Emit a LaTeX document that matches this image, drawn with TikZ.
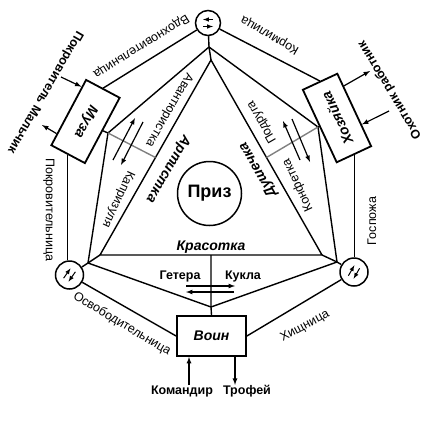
\documentclass[tikz,border=0pt]{standalone}
\usepackage{fontspec}
\setmainfont{Liberation Sans}
\usepackage{tikz}
\usetikzlibrary{arrows,calc,positioning}
\tikzset{x=1pt,y=1pt,
  ring/.style={circle,draw,line width=1.5pt,inner sep=0pt,minimum size=#1},
  box/.style={rectangle,draw,line width=1.8pt,inner sep=0pt,minimum width=#1,minimum height=38,font=\fontsize{14}{16}\selectfont\bfseries\itshape},
  lab/.style={inner sep=0pt,font=\fontsize{12.5}{14}\selectfont},
  blab/.style={inner sep=0pt,font=\fontsize{12.5}{14}\selectfont\bfseries},
  ilab/.style={inner sep=0pt,font=\fontsize{14}{16}\selectfont\bfseries\itshape},
  link/.style={line width=1.4pt},
  arr/.style={-latex,line width=1.2pt},
  tiny/.style={-latex,line width=1pt}}

\begin{document}
\begin{tikzpicture}
    \useasboundingbox (0,0) rectangle (430,-423);
    % circles and boxes
    \node[ring=25] (1) at (208,-23) {};
    \node[ring=28] (2) at (69.5,-275) {};
    \node[ring=28] (3) at (354,-272) {};
    \node[box=74,rotate=242] (4) at (85.5,-121.5) {Муза};
    \node[box=80,rotate=115] (5) at (337,-118) {Хозяйка};
    \node[box=69,minimum height=40] (6) at (211.5,-336) {Воин};
    \node[ring=64,font=\fontsize{18}{20}\selectfont\bfseries] (7) at (209.5,-193.5) {Приз};
    % junctions
    \coordinate (j1) at (209,-47);
    \coordinate (c1) at (211,-60);
    \coordinate (j2) at (88,-263);
    \coordinate (c2) at (100,-255);
    \coordinate (j3) at (337,-262);
    \coordinate (c3) at (322,-255);
    \coordinate (p1) at (108,-133);
    \coordinate (p2) at (318,-127);
    \coordinate (p3) at (211,-307);
    \coordinate (q1) at ($(c1)!.5!(c2)$);
    \coordinate (q2) at ($(c1)!.5!(c3)$);
    \coordinate (q3) at ($(c2)!.5!(c3)$);

    \draw[link] (1) -- (j1) -- (c1);
    \draw[link] (2) -- (j2) -- (c2);
    \draw[link] (3) -- (j3) -- (c3);
    \draw[link] (c1) -- (c2) -- (c3) -- cycle;
    \draw[link] (j1) -- (p1) -- (j2) -- (p3) -- (j3) -- (p2) -- cycle;
    \draw[link] (p1) -- (4.north);
    \draw[link] (p2) -- (5.north);
    \draw[link] (p3) -- (6.north) (p3) -- (q3);
    \draw[link,gray] (p1) -- (q1) (p2) -- (q2);
    % outer ring
    \draw[link] (1) -- (4.west);
    \draw[link] (4.east) -- (4.east |- 2.north);
    \draw[link] (2) -- (6.west);
    \draw[link] (3) -- (6.east);
    \draw[link] (5.west) -- (5.west |- 3.north);
    \draw[link] (5.east) -- (1);

    % arrows in the rings
    \draw[tiny] ([shift={(5,3.5)}]1.center) -- ++(-10,0);
    \draw[tiny] ([shift={(-5,-3.5)}]1.center) -- ++(10,0);
    \begin{scope}[shift={(2.center)},rotate=55]
      \draw[tiny] (-6,3) -- (6,3);
      \draw[tiny] (6,-3) -- (-6,-3);
    \end{scope}
    \begin{scope}[shift={(3.center)},rotate=60]
      \draw[tiny] (-6,3) -- (6,3);
      \draw[tiny] (6,-3) -- (-6,-3);
    \end{scope}

    % arrows across the wedges
    \coordinate (a1) at (113,-160); \coordinate (a2) at (135,-118);
    \coordinate (a3) at (143,-122); \coordinate (a4) at (121,-165);
    \draw[arr] (a1) -- (a2);
    \draw[arr] (a3) -- (a4);
    \coordinate (b1) at (300,-160); \coordinate (b2) at (283,-121);
    \coordinate (b3) at (292,-119); \coordinate (b4) at (310,-162);
    \draw[arr] (b1) -- (b2);
    \draw[arr] (b3) -- (b4);
    \coordinate (g1) at (186,-286); \coordinate (g2) at (235,-286);
    \coordinate (g3) at (234,-292); \coordinate (g4) at (186,-292);
    \draw[arr] (g1) -- (g2);
    \draw[arr] (g3) -- (g4);

    % arrows outside the boxes
    \coordinate (m1) at (61,-77);
    \coordinate (m2) at (42,-125);
    \draw[arr] (m1) -- ($(4.south west)!.12!(4.south east)$);
    \draw[arr] ($(4.south west)!.82!(4.south east)$) -- (m2);
    \coordinate (h1) at (370,-71);
    \coordinate (h2) at (389,-111);
    \draw[arr] ($(5.south east)!.18!(5.south west)$) -- (h1);
    \draw[arr] (h2) -- ($(5.south east)!.7!(5.south west)$);

    % texts
    \node[lab,rotate=212] (t1) at (141,-46) {Вдохновительница};
    \node[lab,rotate=150] (t2) at (270,-35) {Кормилица};
    \node[blab,rotate=240] (t3) at (45,-92) {Покровитель Мальчик};
    \node[blab,rotate=121] (t4) at (390,-90) {Охотник работник};
    \node[lab,rotate=240] (t5) at (169,-110) {Авантюристка};
    \node[lab,rotate=245] (t6) at (118,-199) {Капризуля};
    \node[ilab,rotate=240] (t7) at (168,-169) {Артистка};
    \node[ilab,rotate=120] (t8) at (258,-170) {Душечка};
    \node[lab,rotate=120] (t9) at (262,-122) {Подруга};
    \node[lab,rotate=115] (t10) at (298,-185) {Конфетка};
    \node[ilab] (t11) at (211,-247) {Красотка};
    \node[blab] (t12) at (180,-276) {Гетера};
    \node[blab] (t13) at (243,-276) {Кукла};
    \node[lab,rotate=-90] (t14) at (49,-210) {Покровительница};
    \node[lab,rotate=90] (t15) at (372,-221) {Госпожа};
    \node[lab,rotate=-31] (t16) at (122,-324) {Освободительница};
    \node[lab,rotate=28] (t17) at (305,-326) {Хищница};
    \node[blab] (t18) at (182,-391) {Командир};
    \node[blab] (t19) at (247,-391) {Трофей};
    \draw[arr] (t18.north -| 189,0) -- (6.south -| 189,0);
    \draw[arr] (6.south -| 235,0) -- (t19.north -| 235,0);
\end{tikzpicture}
\end{document}
